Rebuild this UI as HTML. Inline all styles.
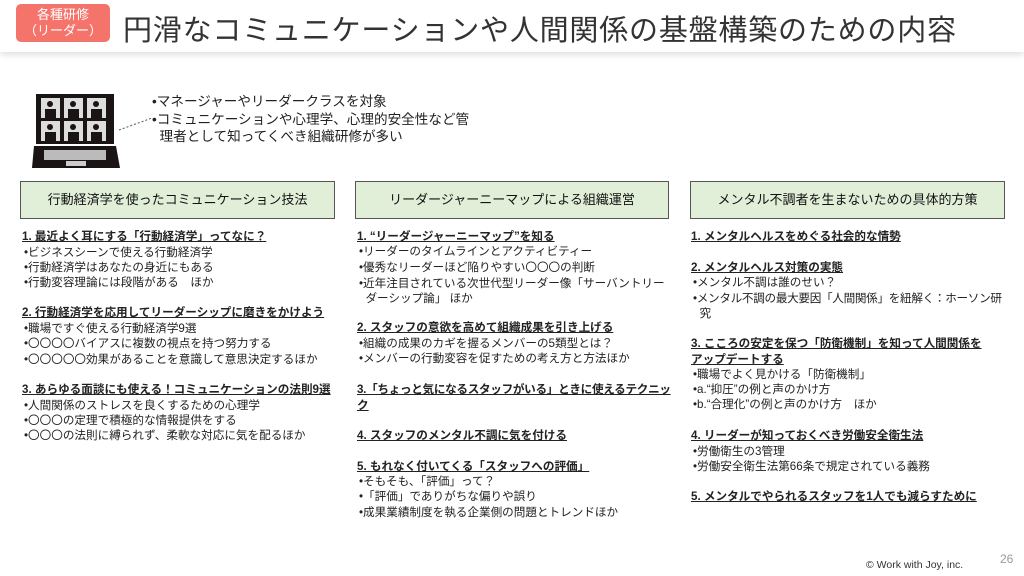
<!DOCTYPE html>
<html><head><meta charset="utf-8"><style>
body{margin:0;width:1024px;height:576px;background:#fff;position:relative;overflow:hidden;font-family:"Liberation Sans","Noto Sans CJK JP",sans-serif;color:#222}
.hdr{position:absolute;left:0;top:0;width:1024px;height:52px;background:#fff;box-shadow:0 3px 6px rgba(0,0,0,.12)}
.tag{position:absolute;left:16px;top:4px;width:94px;height:38px;background:#f4746b;border-radius:5px;color:#fff;font-size:13px;line-height:16px;text-align:center;padding-top:3px;box-sizing:border-box}
.title{position:absolute;left:123px;top:7px;font-size:29px;color:#333;white-space:nowrap;letter-spacing:0.8px}
.box{position:absolute;top:181px;height:38px;background:#e1efd9;border:1px solid #555;box-sizing:border-box;font-size:13px;line-height:36px;text-align:center;color:#111}
.l{position:absolute;font-size:11.6px;line-height:15px;white-space:nowrap;color:#222}
.h{font-weight:bold;text-decoration:underline;color:#222}
.intro{position:absolute;left:152px;font-size:13.6px;line-height:16px;white-space:nowrap}
</style></head><body>
<div class="hdr"></div>
<div class="tag">各種研修<br>（リーダー）</div>
<div class="title">円滑なコミュニケーションや人間関係の基盤構築のための内容</div>

<svg style="position:absolute;left:30px;top:90px" width="92" height="80" viewBox="0 0 92 80">
<rect x="6" y="4" width="78" height="50" fill="#1a1414"/>
<g fill="#ddd">
<rect x="11" y="8" width="19" height="20"/><rect x="34" y="8" width="19" height="20"/><rect x="57" y="8" width="19" height="20"/>
<rect x="11" y="31" width="19" height="20"/><rect x="34" y="31" width="19" height="20"/><rect x="57" y="31" width="19" height="20"/></g>
<g fill="#1a1414">
<circle cx="20" cy="14" r="3"/><rect x="15" y="19" width="11" height="9"/>
<circle cx="43" cy="14" r="3"/><rect x="38" y="19" width="11" height="9"/>
<circle cx="66" cy="14" r="3"/><rect x="61" y="19" width="11" height="9"/>
<circle cx="20" cy="37" r="3"/><rect x="15" y="42" width="11" height="9"/>
<circle cx="43" cy="37" r="3"/><rect x="38" y="42" width="11" height="9"/>
<circle cx="66" cy="37" r="3"/><rect x="61" y="42" width="11" height="9"/>
<polygon points="4,56 86,56 90,78 2,78"/></g>
<rect x="14" y="60" width="62" height="10" fill="#bbb"/>
<rect x="36" y="71" width="20" height="5" fill="#ccc"/>
</svg>
<svg style="position:absolute;left:118px;top:116px" width="36" height="16"><line x1="1" y1="14" x2="34" y2="2" stroke="#555" stroke-dasharray="2,2"/></svg>
<div class="intro" style="top:94px">•マネージャーやリーダークラスを対象</div>
<div class="intro" style="top:112px">•コミュニケーションや心理学、心理的安全性など管</div>
<div class="intro" style="top:129px">&nbsp;&nbsp;理者として知ってくべき組織研修が多い</div>

<div class="box" style="left:20px;width:315px">行動経済学を使ったコミュニケーション技法</div>
<div class="box" style="left:355px;width:314px">リーダージャーニーマップによる組織運営</div>
<div class="box" style="left:690px;width:315px">メンタル不調者を生まないための具体的方策</div>

<div class="l h" style="left:22px;top:229px">1. 最近よく耳にする「行動経済学」ってなに？</div>
<div class="l" style="left:24px;top:245px">•ビジネスシーンで使える行動経済学</div>
<div class="l" style="left:24px;top:260px">•行動経済学はあなたの身近にもある</div>
<div class="l" style="left:24px;top:275px">•行動変容理論には段階がある　ほか</div>
<div class="l h" style="left:22px;top:305px">2. 行動経済学を応用してリーダーシップに磨きをかけよう</div>
<div class="l" style="left:24px;top:321px">•職場ですぐ使える行動経済学9選</div>
<div class="l" style="left:24px;top:336px">•〇〇〇〇バイアスに複数の視点を持つ努力する</div>
<div class="l" style="left:24px;top:352px">•〇〇〇〇〇効果があることを意識して意思決定するほか</div>
<div class="l h" style="left:22px;top:382px">3. あらゆる面談にも使える！コミュニケーションの法則9選</div>
<div class="l" style="left:24px;top:398px">•人間関係のストレスを良くするための心理学</div>
<div class="l" style="left:24px;top:413px">•〇〇〇の定理で積極的な情報提供をする</div>
<div class="l" style="left:24px;top:428px">•〇〇〇の法則に縛られず、柔軟な対応に気を配るほか</div>

<div class="l h" style="left:357px;top:229px">1. “リーダージャーニーマップ”を知る</div>
<div class="l" style="left:359px;top:244px">•リーダーのタイムラインとアクティビティー</div>
<div class="l" style="left:359px;top:260px">•優秀なリーダーほど陥りやすい〇〇〇の判断</div>
<div class="l" style="left:359px;top:276px">•近年注目されている次世代型リーダー像「サーバントリー</div>
<div class="l" style="left:359px;top:291px">&nbsp;&nbsp;ダーシップ論」 ほか</div>
<div class="l h" style="left:357px;top:320px">2. スタッフの意欲を高めて組織成果を引き上げる</div>
<div class="l" style="left:359px;top:336px">•組織の成果のカギを握るメンバーの5類型とは？</div>
<div class="l" style="left:359px;top:351px">•メンバーの行動変容を促すための考え方と方法ほか</div>
<div class="l h" style="left:357px;top:382px;letter-spacing:-0.3px">3.「ちょっと気になるスタッフがいる」ときに使えるテクニッ</div>
<div class="l h" style="left:357px;top:398px">ク</div>
<div class="l h" style="left:357px;top:428px">4. スタッフのメンタル不調に気を付ける</div>
<div class="l h" style="left:357px;top:459px">5. もれなく付いてくる「スタッフへの評価」</div>
<div class="l" style="left:359px;top:474px">•そもそも、「評価」って？</div>
<div class="l" style="left:359px;top:489px">•「評価」でありがちな偏りや誤り</div>
<div class="l" style="left:359px;top:505px">•成果業績制度を執る企業側の問題とトレンドほか</div>

<div class="l h" style="left:691px;top:229px">1. メンタルヘルスをめぐる社会的な情勢</div>
<div class="l h" style="left:691px;top:260px">2. メンタルヘルス対策の実態</div>
<div class="l" style="left:693px;top:275px">•メンタル不調は誰のせい？</div>
<div class="l" style="left:693px;top:291px;letter-spacing:-0.3px">•メンタル不調の最大要因「人間関係」を紐解く：ホーソン研</div>
<div class="l" style="left:693px;top:306px">&nbsp;&nbsp;究</div>
<div class="l h" style="left:691px;top:336px">3. こころの安定を保つ「防衛機制」を知って人間関係を</div>
<div class="l h" style="left:691px;top:352px">アップデートする</div>
<div class="l" style="left:693px;top:367px">•職場でよく見かける「防衛機制」</div>
<div class="l" style="left:693px;top:382px">•a.“抑圧”の例と声のかけ方</div>
<div class="l" style="left:693px;top:397px">•b.“合理化”の例と声のかけ方　ほか</div>
<div class="l h" style="left:691px;top:428px">4. リーダーが知っておくべき労働安全衛生法</div>
<div class="l" style="left:693px;top:444px">•労働衛生の3管理</div>
<div class="l" style="left:693px;top:459px">•労働安全衛生法第66条で規定されている義務</div>
<div class="l h" style="left:691px;top:489px">5. メンタルでやられるスタッフを1人でも減らすために</div>

<div style="position:absolute;left:866px;top:559px;font-size:10.5px;color:#333">© Work with Joy, inc.</div>
<div style="position:absolute;left:1000px;top:552px;font-size:12px;color:#999">26</div>
</body></html>
